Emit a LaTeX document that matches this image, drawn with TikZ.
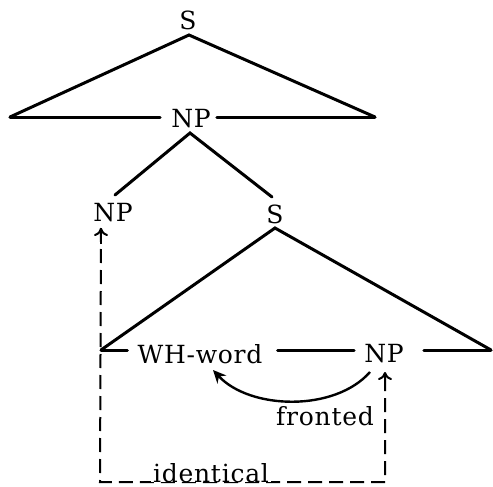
\documentclass[tikz,border=0pt]{standalone}
\usepackage{fontspec}
\setmainfont{DejaVu Serif}[LetterSpace=3]
\usetikzlibrary{arrows.meta}
\begin{document}
\begin{tikzpicture}[x=1pt,y=-1pt,
  lbl/.style={font=\fontsize{25}{28}\selectfont, inner sep=0pt},
  tree/.style={line width=3pt, line cap=round},
  dsh/.style={line width=2pt, dash pattern=on 14pt off 7pt},
  uptip/.style={line width=2pt, -{To[length=8pt,width=14pt,line width=2pt]}}]
\useasboundingbox (0,0) rectangle (493,487);
% labels
\node[lbl] (s1) at (188,20) {S};
\node[lbl] (np1) at (191,119) {NP};
\node[lbl] (npl) at (113,213) {NP};
\node[lbl] (s2) at (275,214) {S};
\node[lbl] (wh) at (200,354) {WH-word};
\node[lbl] (np2) at (384,354) {NP};
\node[lbl] (fr) at (325,416) {fronted};
% tree coordinates
\coordinate (a1) at (189,35);
\coordinate (tl) at (10,117);
\coordinate (tr) at (375,117);
\coordinate (a2) at (190,133);
\coordinate (b2l) at (115,195);
\coordinate (b2r) at (272,197);
\coordinate (a3) at (275,228);
\coordinate (cl) at (101,350);
\coordinate (cr) at (491,350);
% top triangle
\draw[tree] (tl) -- (a1) -- (tr);
\draw[tree] (tl) -- ([xshift=-11pt]np1.west |- tl);
\draw[tree] ([xshift=6pt]np1.east |- tr) -- (tr);
% NP branches
\draw[tree] (b2l) -- (a2) -- (b2r);
% lower triangle
\draw[tree] (cl) -- (a3) -- (cr);
\draw[tree] (cl) -- ([xshift=-10pt]wh.west |- cl);
\draw[tree] ([xshift=15pt]wh.east |- cl) -- ([xshift=-10pt]np2.west |- cl);
\draw[tree] ([xshift=20pt]np2.east |- cr) -- (cr);
% fronting arc
\coordinate (arcs) at (370,372);
\coordinate (arce) at (213,370);
\draw[line width=2.4pt, -{Stealth[length=13pt,width=12pt]}] (arcs) .. controls (335,412) and (250,410) .. (arce);
% identity dashed connector
\coordinate (dl) at (100,482);
\coordinate (dr) at (385,482);
\coordinate (tipl) at (101,228);
\coordinate (tipr) at (385,372);
\draw[dsh] (tipl) -- (dl) -- (dr) -- (tipr);
\draw[uptip] ([yshift=-16pt]tipl) -- (tipl);
\draw[uptip] ([yshift=-16pt]tipr) -- (tipr);
\node[lbl, anchor=base, fill=white, inner xsep=2pt, inner ysep=0pt] (id) at (211,482) {identical};
\end{tikzpicture}
\end{document}
